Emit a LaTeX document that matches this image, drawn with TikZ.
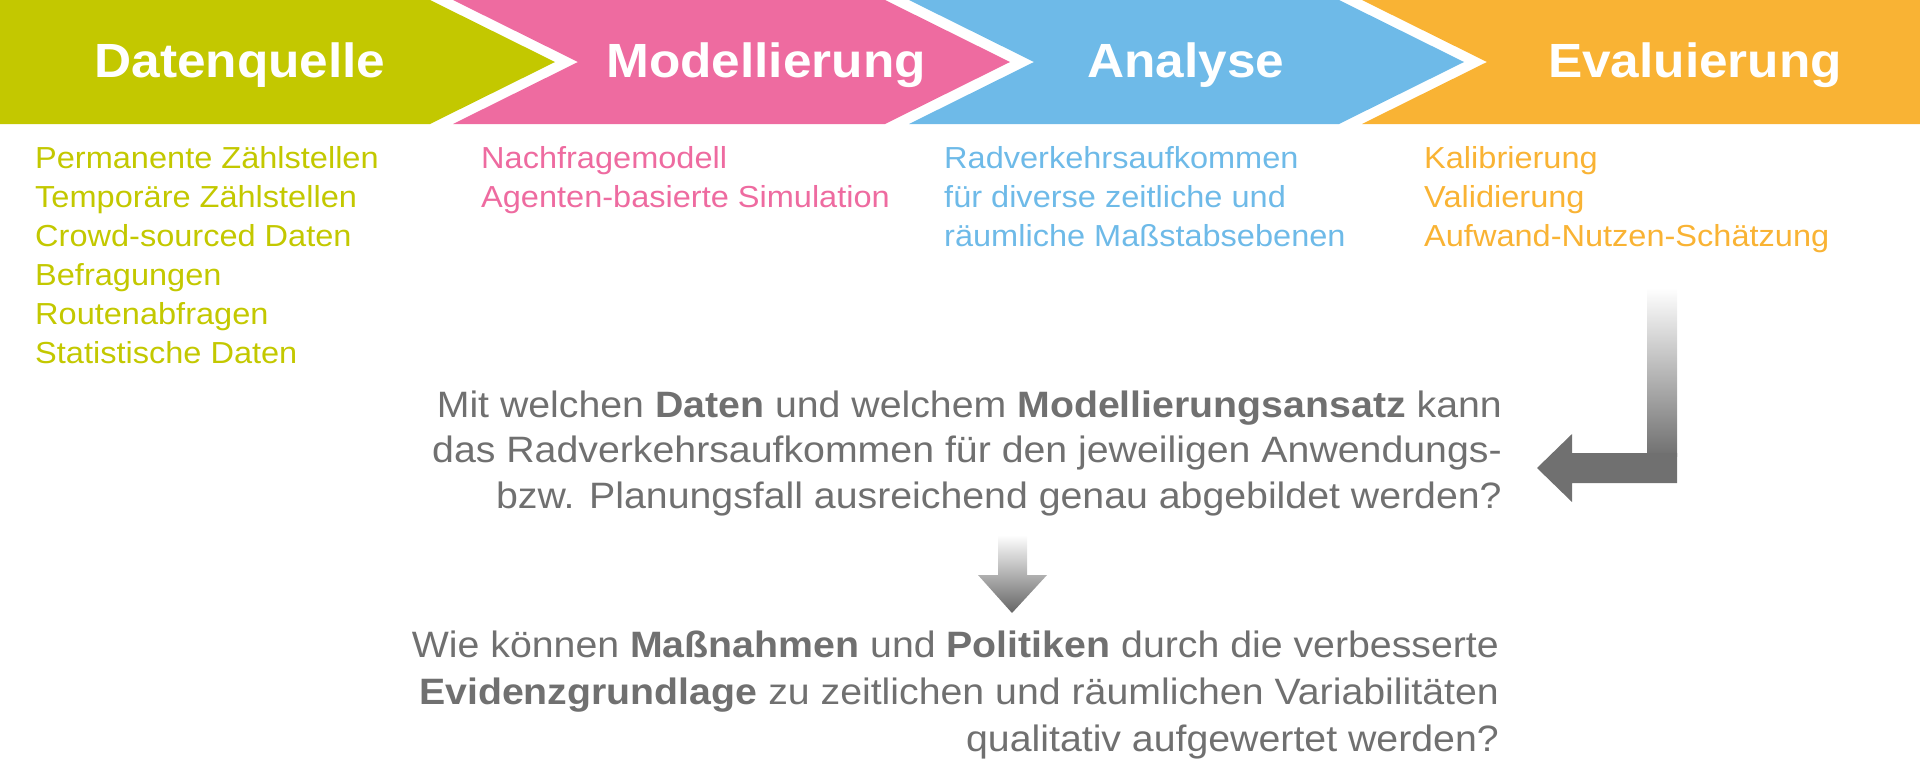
\documentclass[tikz,border=0pt]{standalone}
\usepackage{fontspec}
\setmainfont{Liberation Sans}
\usepackage{graphicx}
\definecolor{cgreen}{HTML}{C3C800}
\definecolor{cpink}{HTML}{EE6BA0}
\definecolor{cblue}{HTML}{6EBAE8}
\definecolor{corange}{HTML}{F9B334}
\definecolor{qgray}{HTML}{707070}
\newcommand{\hstr}[1]{\scalebox{1.07}[1]{#1}}
\begin{document}
\begin{tikzpicture}[x=1pt,y=-1pt,
  title/.style={anchor=base, inner sep=0pt, text=white, font=\fontsize{48}{52}\selectfont\bfseries},
  listline/.style={anchor=base west, inner sep=0pt, font=\fontsize{30.4}{34}\selectfont},
  qline/.style={anchor=base east, inner sep=0pt, text=qgray, font=\fontsize{36.7}{42}\selectfont}]
\useasboundingbox (0,0) rectangle (1920,766);
% banner
\fill[cgreen] (0,0) -- (430,0) -- (555,62) -- (430,124) -- (0,124) -- cycle;
\fill[cpink] (453,0) -- (885,0) -- (1010,62) -- (885,124) -- (453,124) -- (578,62) -- cycle;
\fill[cblue] (909,0) -- (1339,0) -- (1464,62) -- (1339,124) -- (909,124) -- (1034,62) -- cycle;
\fill[corange] (1362,0) -- (1920,0) -- (1920,124) -- (1362,124) -- (1487,62) -- cycle;
% titles
\node[title] (t1) at (240,77) {\hstr{Datenquelle}};
\node[title] (t2) at (766,77) {\hstr{Modellierung}};
\node[title] (t3) at (1186,77) {\hstr{Analyse}};
\node[title] (t4) at (1695,77) {\hstr{Evaluierung}};
% green list
\node[listline, text=cgreen] (g1) at (35,168) {\hstr{Permanente Zählstellen}};
\node[listline, text=cgreen] (g2) at (35,207) {\hstr{Temporäre Zählstellen}};
\node[listline, text=cgreen] (g3) at (35,246) {\hstr{Crowd-sourced Daten}};
\node[listline, text=cgreen] (g4) at (35,285) {\hstr{Befragungen}};
\node[listline, text=cgreen] (g5) at (35,324) {\hstr{Routenabfragen}};
\node[listline, text=cgreen] (g6) at (35,363) {\hstr{Statistische Daten}};
% pink list
\node[listline, text=cpink] (p1) at (481,168) {\hstr{Nachfragemodell}};
\node[listline, text=cpink] (p2) at (481,207) {\hstr{Agenten-basierte Simulation}};
% blue list
\node[listline, text=cblue] (b1) at (944,168) {\hstr{Radverkehrsaufkommen}};
\node[listline, text=cblue] (b2) at (944,207) {\hstr{für diverse zeitliche und}};
\node[listline, text=cblue] (b3) at (944,246) {\hstr{räumliche Maßstabsebenen}};
% orange list
\node[listline, text=corange] (o1) at (1424,168) {\hstr{Kalibrierung}};
\node[listline, text=corange] (o2) at (1424,207) {\hstr{Validierung}};
\node[listline, text=corange] (o3) at (1424,246) {\hstr{Aufwand-Nutzen-Schätzung}};
% bent arrow
\shade[top color=white, bottom color=qgray] (1647,288) rectangle (1677,456);
\fill[qgray] (1647,453) -- (1677,453) -- (1677,483) -- (1572,483) -- (1572,502) -- (1537,468) -- (1572,434) -- (1572,453) -- cycle;
% question 1
\node[qline] (q11) at (1502,417) {\hstr{Mit welchen \textbf{Daten} und welchem \textbf{Modellierungsansatz} kann}};
\node[qline] (q12) at (1502,462) {\hstr{das Radverkehrsaufkommen für den jeweiligen Anwendungs-}};
\node[qline] (q13) at (1502,508) {\hstr{bzw. Planungsfall ausreichend genau abgebildet werden?}};
% down arrow
\shade[top color=white, bottom color=qgray!90!black] (998,535) -- (1027,535) -- (1027,575) -- (1047,575) -- (1012,613) -- (978,575) -- (998,575) -- cycle;
% question 2
\node[qline] (q21) at (1499,657) {\hstr{Wie können \textbf{Maßnahmen} und \textbf{Politiken} durch die verbesserte}};
\node[qline] (q22) at (1499,704) {\hstr{\textbf{Evidenzgrundlage} zu zeitlichen und räumlichen Variabilitäten}};
\node[qline] (q23) at (1499,751) {\hstr{qualitativ aufgewertet werden?}};
\end{tikzpicture}
\end{document}
